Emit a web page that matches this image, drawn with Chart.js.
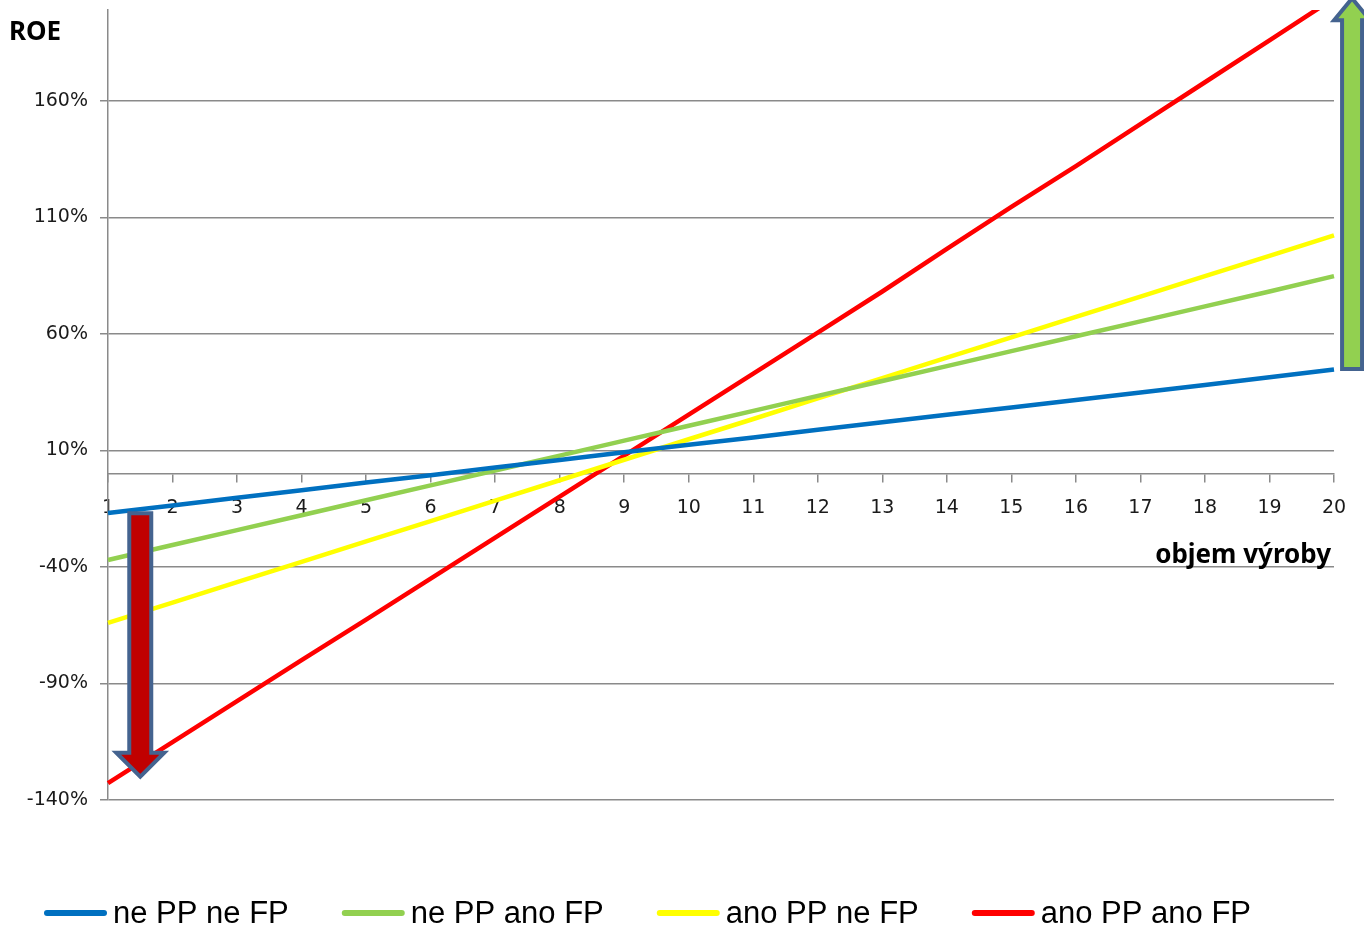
<!DOCTYPE html>
<html>
<head>
<meta charset="utf-8">
<script src="https://cdn.jsdelivr.net/npm/chart.js@4"></script>
<style>
  body { margin: 0; background: #fff; }
  canvas { display: block; }
</style>
</head>
<body>
<canvas id="roeChart" width="1364" height="934"></canvas>
<script>
// objem vyroby 1..20
const labels = ['1','2','3','4','5','6','7','8','9','10','11','12','13','14','15','16','17','18','19','20'];

// ROE in %
const nePPneFP = [-16.8,-13.6,-10.3,-7.1,-3.8,-0.6,2.7,5.9,9.2,12.4,15.6,18.9,22.1,25.3,28.4,31.6,34.9,38.1,41.4,44.7];
const nePPanoFP = [-37,-30.6,-24.2,-17.8,-11.4,-5,1.4,7.8,14.2,20.6,27,33.4,39.8,46.2,52.6,59,65.4,71.8,78.2,84.8];
const anoPPneFP = [-64,-55.3,-46.5,-37.8,-29,-20.3,-11.5,-2.8,6,14.8,23.5,32.3,41,49.8,58.5,67.3,76,84.8,93.5,102.3];
const anoPPanoFP = [-132.8,-115.2,-97.6,-80,-62.6,-45,-27.4,-9.8,7.8,25.4,43,60.6,78.2,96.5,114.5,132,150,168,186,204];

const yTicks = [-140,-90,-40,10,60,110,160];

// arrows, in axis values: [x index, y tail, y tip]
const downArrow = [0.5, -17, -130];
const upArrow = [19.28, 45, 204];

const gridColor = '#8a8a8a';

function drawArrow(ctx, cx, yTail, yTip, shaftW, headW, headL, fill) {
    const dir = yTip > yTail ? 1 : -1;
    const yBase = yTip - dir * headL;
    ctx.beginPath();
    ctx.moveTo(cx - shaftW / 2, yTail);
    ctx.lineTo(cx - shaftW / 2, yBase);
    ctx.lineTo(cx - headW / 2, yBase);
    ctx.lineTo(cx, yTip);
    ctx.lineTo(cx + headW / 2, yBase);
    ctx.lineTo(cx + shaftW / 2, yBase);
    ctx.lineTo(cx + shaftW / 2, yTail);
    ctx.closePath();
    ctx.fillStyle = fill;
    ctx.fill();
    ctx.lineWidth = 4;
    ctx.lineJoin = 'miter';
    ctx.strokeStyle = '#44638f';
    ctx.stroke();
}

const extras = {
    id: 'extras',
    afterDatasetsDraw(chart) {
        const ctx = chart.ctx;
        const x = chart.scales.x, y = chart.scales.y;
        ctx.save();
        drawArrow(ctx, x.getPixelForValue(downArrow[0]), y.getPixelForValue(downArrow[1]),
            y.getPixelForValue(downArrow[2]), 22, 48, 24, '#c00000');
        drawArrow(ctx, x.getPixelForValue(upArrow[0]), y.getPixelForValue(upArrow[1]),
            y.getPixelForValue(upArrow[2]), 20, 36, 22, '#92d050');
        ctx.restore();
    },
    afterDraw(chart) {
        const ctx = chart.ctx;
        const area = chart.chartArea;
        const y = chart.scales.y;
        ctx.save();
        // axis titles
        ctx.fillStyle = '#000';
        ctx.font = 'bold 26px "Noto Sans"';
        ctx.textBaseline = 'middle';
        ctx.textAlign = 'left';
        ctx.fillText('ROE', 9, 33);
        ctx.textAlign = 'right';
        ctx.fillText('objem výroby', area.right - 3, y.getPixelForValue(-35));

        // legend
        ctx.font = '31px "Liberation Sans", sans-serif';
        ctx.textAlign = 'left';
        let lx = 44;
        const ly = 913;
        chart.data.datasets.forEach(ds => {
            ctx.beginPath();
            ctx.moveTo(lx + 3, ly);
            ctx.lineTo(lx + 60, ly);
            ctx.lineWidth = 6;
            ctx.lineCap = 'round';
            ctx.strokeStyle = ds.borderColor;
            ctx.stroke();
            ctx.fillStyle = '#000';
            ctx.fillText(ds.label, lx + 69, ly + 1);
            lx += 69 + ctx.measureText(ds.label).width + 53;
        });
        ctx.restore();
    }
};

const ctx = document.getElementById('roeChart').getContext('2d');
const roeChart = new Chart(ctx, {
    type: 'line',
    data: {
        labels: labels,
        datasets: [
            { label: 'ne PP ne FP', data: nePPneFP, borderColor: '#0070c0' },
            { label: 'ne PP ano FP', data: nePPanoFP, borderColor: '#92d050' },
            { label: 'ano PP ne FP', data: anoPPneFP, borderColor: '#ffff00' },
            { label: 'ano PP ano FP', data: anoPPanoFP, borderColor: '#ff0000' }
        ]
    },
    options: {
        responsive: false,
        animation: false,
        layout: { padding: { left: 0, top: 10, right: 30, bottom: 134 } },
        elements: {
            line: { borderWidth: 4.5, tension: 0 },
            point: { radius: 0 }
        },
        plugins: {
            legend: { display: false },
            tooltip: { enabled: false }
        },
        scales: {
            x: {
                position: { y: 0 },
                afterFit: s => { s.height = 0; s.paddingLeft = 0; s.paddingRight = 0; },
                grid: { drawOnChartArea: false, drawTicks: true, tickLength: 8, color: gridColor, lineWidth: 1.5 },
                border: { display: true, color: gridColor, width: 1.5 },
                ticks: {
                    autoSkip: false, maxRotation: 0, padding: 15,
                    color: '#1a1a1a', font: { family: 'DejaVu Sans', size: 19 }
                }
            },
            y: {
                min: -140,
                max: 199,
                afterFit: s => { s.width = 108; s.paddingTop = 0; s.paddingBottom = 0; },
                afterBuildTicks: s => { s.ticks = yTicks.map(v => ({ value: v })); },
                grid: { color: gridColor, lineWidth: 1.5, tickLength: 8 },
                border: { display: true, color: gridColor, width: 1.5 },
                ticks: {
                    padding: 12,
                    color: '#1a1a1a',
                    font: { family: 'DejaVu Sans', size: 19 },
                    callback: v => v + '%'
                }
            }
        }
    },
    plugins: [extras]
});
</script>
</body>
</html>
